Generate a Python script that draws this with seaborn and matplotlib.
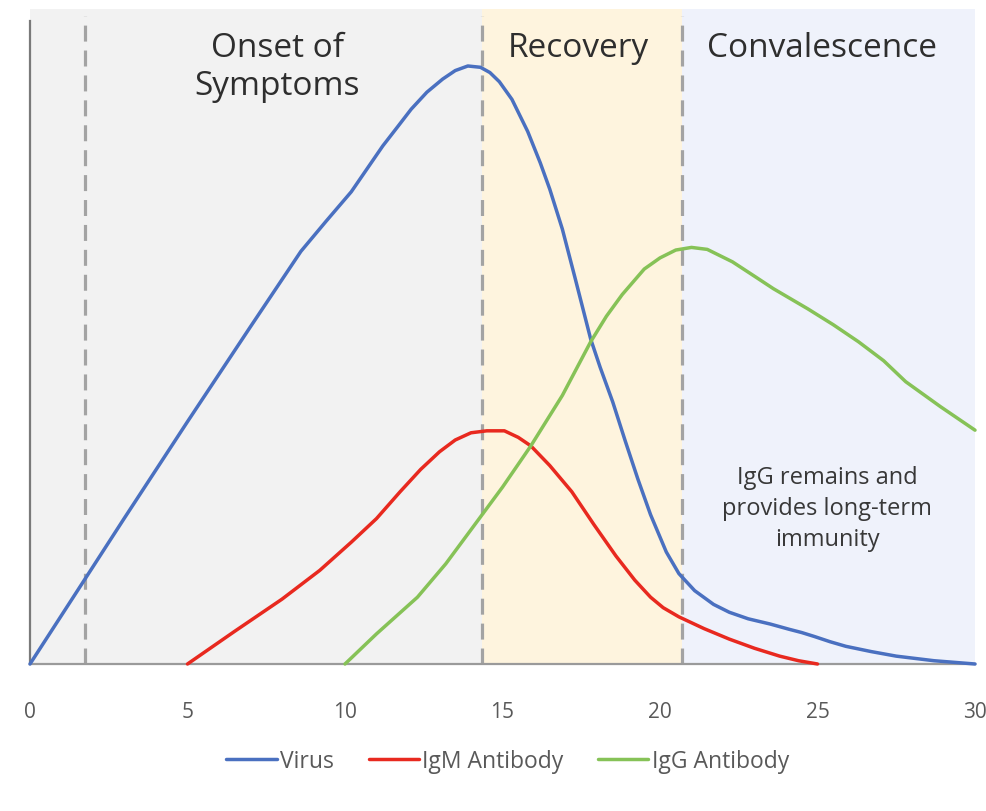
import numpy as np
import pandas as pd
import matplotlib
matplotlib.use("Agg")
import matplotlib.pyplot as plt
import seaborn as sns

# curves (day, relative level)
virus_day = [0, 1.75, 3, 5, 7, 8.6, 9.4, 10.2, 10.7, 11.2, 11.7, 12.1, 12.6, 13.1, 13.5, 13.9,
             14.3, 14.6, 14.9, 15.3, 15.8, 16.2, 16.5, 16.9, 17.3, 17.8, 18.1, 18.5, 18.9,
             19.3, 19.7, 20.2, 20.6, 21.1, 21.7, 22.2, 22.8, 23.5, 24.1, 24.5, 24.9, 25.4,
             25.9, 26.7, 27.5, 28.7, 30]
virus_level = [0, 13, 22.3, 37, 51.5, 63, 67.6, 72.1, 75.6, 79.1, 82.2, 84.7, 87.3, 89.3, 90.6, 91.3,
               91.1, 90.3, 88.9, 86.2, 81.3, 76.5, 72.5, 66.4, 59, 49.6, 45.3, 40, 34,
               28.2, 22.8, 17.1, 13.8, 11.2, 9.1, 7.9, 6.9, 6.1, 5.3, 4.8, 4.2, 3.4,
               2.7, 1.9, 1.2, 0.5, 0]

igm_day = [5, 6.5, 8, 9.2, 10.2, 11, 11.75, 12.4, 13, 13.5, 14.0, 14.5, 15.06, 15.5, 15.9,
           16.5, 17.2, 17.9, 18.6, 19.2, 19.7, 20.1, 20.6, 21.4, 22.2, 23, 23.8, 24.4, 25]
igm_level = [0, 5, 9.9, 14.3, 18.6, 22.2, 26.3, 29.7, 32.4, 34.2, 35.3, 35.6, 35.6, 34.6, 33.3,
             30.3, 26.3, 21.3, 16.5, 12.8, 10.2, 8.6, 7.2, 5.4, 3.8, 2.4, 1.2, 0.5, 0]

igg_day = [10, 11, 12.3, 13.2, 14.0, 15.0, 15.9, 16.9, 17.8, 18.3, 18.8, 19.5, 20.0, 20.5, 21.0,
           21.5, 22.3, 23.0, 23.6, 24.7, 25.5, 26.3, 27.1, 27.8, 28.9, 30]
igg_level = [0, 4.6, 10.2, 15.3, 20.5, 27.0, 33.3, 41, 49.2, 53.1, 56.4, 60.3, 62, 63.2, 63.6,
             63.3, 61.4, 59.2, 57.3, 54.2, 51.8, 49.2, 46.3, 43.1, 39.3, 35.7]

series_names = ["Virus", "IgM Antibody", "IgG Antibody"]
series_colors = ["#4a70c0", "#e8291f", "#86c257"]

phase_edges = [0, 14.35, 20.7, 30]
phase_colors = ["#f2f2f2", "#fef4de", "#eff2fb"]
phase_labels = ["Onset of\nSymptoms", "Recovery", "Convalescence"]
phase_label_x = [7.85, 17.42, 25.15]
dashed_days = [1.75, 14.35, 20.7]

note = "IgG remains and\nprovides long-term\nimmunity"
x_ticks = [0, 5, 10, 15, 20, 25, 30]

df = pd.concat([
    pd.DataFrame({"day": virus_day, "level": virus_level, "series": series_names[0]}),
    pd.DataFrame({"day": igm_day, "level": igm_level, "series": series_names[1]}),
    pd.DataFrame({"day": igg_day, "level": igg_level, "series": series_names[2]}),
])

sns.set_style("white")
plt.rcParams["font.family"] = ["Open Sans", "DejaVu Sans"]

fig = plt.figure(figsize=(9.86, 8.12), dpi=100)
ax = fig.add_axes([30 / 986, 1 - 665 / 812, 945 / 986, 655 / 812])

# phase backgrounds
for i in range(3):
    ax.axvspan(phase_edges[i], phase_edges[i + 1], color=phase_colors[i], lw=0, zorder=0)
for d in dashed_days:
    ax.axvline(d, ymin=0, ymax=0.99, color="#a3a3a3", lw=2.3, dashes=(5, 2.8), zorder=1)

sns.lineplot(data=df, x="day", y="level", hue="series", palette=series_colors,
             estimator=None, sort=False, lw=2.5, ax=ax, legend=True, zorder=3)
for ln in ax.lines:
    ln.set_clip_on(False)
    ln.set_solid_joinstyle("round")

ax.set_xlim(0, 30)
ax.set_ylim(0, 100)
ax.set_xlabel("")
ax.set_ylabel("")
ax.set_yticks([])
ax.set_xticks(x_ticks)
ax.tick_params(axis="x", length=0, pad=27, labelsize=15, labelcolor="#595959")

for s in ["top", "right"]:
    ax.spines[s].set_visible(False)
ax.spines["bottom"].set_color("#9a9a9a")
ax.spines["bottom"].set_linewidth(1.6)
ax.spines["left"].set_color("#7a7a7a")
ax.spines["left"].set_linewidth(1.6)
ax.spines["left"].set_bounds(0, 98.2)

for lbl, xx in zip(phase_labels, phase_label_x):
    ax.text(xx, 96.6, lbl, ha="center", va="top", fontsize=24, color="#2e2e2e",
            linespacing=1.17, zorder=4)

ax.text(25.3, 30.4, note, ha="center", va="top", fontsize=17, color="#383838",
        linespacing=1.4, zorder=4)

handles, labels = ax.get_legend_handles_labels()
ax.get_legend().remove()
fig.legend(handles, labels, loc="center", bbox_to_anchor=(0.515, 0.062), ncol=3,
           frameon=False, fontsize=16.5, labelcolor="#595959", handlelength=2.2,
           handletextpad=0.15, columnspacing=1.5)

fig.savefig("out.png", dpi=100)
